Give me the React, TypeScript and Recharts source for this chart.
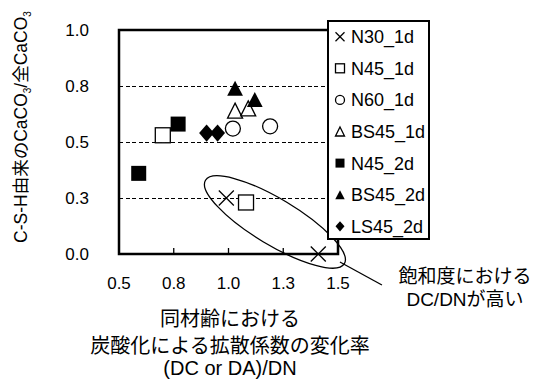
import React from 'react';
import {
  ScatterChart,
  Scatter,
  XAxis,
  YAxis,
  CartesianGrid,
  ReferenceArea,
  ReferenceDot
} from 'recharts';

const FONT = "'Liberation Sans', Arial, 'Noto Sans CJK JP', sans-serif";

const seriesNames = ['N30_1d', 'N45_1d', 'N60_1d', 'BS45_1d', 'N45_2d', 'BS45_2d', 'LS45_2d'];
const seriesKinds = ['x', 'sq', 'ci', 'tri', 'sqf', 'trif', 'dia'];

const n30_1d = [{ x: 0.99, y: 0.25 }, { x: 1.41, y: 0.0 }];
const n45_1d = [{ x: 0.7, y: 0.53 }, { x: 1.08, y: 0.23 }];
const n60_1d = [{ x: 1.02, y: 0.56 }, { x: 1.19, y: 0.57 }];
const bs45_1d = [{ x: 1.03, y: 0.64 }, { x: 1.09, y: 0.65 }];
const n45_2d = [{ x: 0.77, y: 0.58 }, { x: 0.59, y: 0.36 }];
const bs45_2d = [{ x: 1.03, y: 0.74 }, { x: 1.12, y: 0.69 }];
const ls45_2d = [{ x: 0.9, y: 0.54 }, { x: 0.95, y: 0.54 }];
const seriesData = [n30_1d, n45_1d, n60_1d, bs45_1d, n45_2d, bs45_2d, ls45_2d];

const xTicks = [0.5, 0.75, 1.0, 1.25, 1.5];
const yTicks = [0, 0.25, 0.5, 0.75, 1.0];

// ellipse drawn around the high-saturation points
const ellipseCenter = { x: 1.212, y: 0.143 };

const Marker = ({ kind, cx, cy, s }: { kind: string; cx: number; cy: number; s: number }) => {
  const h = s / 2;
  const sw = 1.3;
  switch (kind) {
    case 'x':
      return (
        <g stroke="#000" strokeWidth={sw}>
          <line x1={cx - h} y1={cy - h} x2={cx + h} y2={cy + h} />
          <line x1={cx - h} y1={cy + h} x2={cx + h} y2={cy - h} />
        </g>
      );
    case 'sq':
      return <rect x={cx - h} y={cy - h} width={s} height={s} fill="#fff" stroke="#000" strokeWidth={sw} />;
    case 'ci':
      return <circle cx={cx} cy={cy} r={h} fill="#fff" stroke="#000" strokeWidth={sw} />;
    case 'tri':
      return (
        <polygon
          points={`${cx},${cy - h} ${cx + h},${cy + h} ${cx - h},${cy + h}`}
          fill="#fff"
          stroke="#000"
          strokeWidth={sw}
        />
      );
    case 'sqf':
      return <rect x={cx - h} y={cy - h} width={s} height={s} fill="#000" />;
    case 'trif':
      return <polygon points={`${cx},${cy - h} ${cx + h * 1.05},${cy + h} ${cx - h * 1.05},${cy + h}`} fill="#000" />;
    default:
      return (
        <polygon
          points={`${cx},${cy - h * 1.15} ${cx + h},${cy} ${cx},${cy + h * 1.15} ${cx - h},${cy}`}
          fill="#000"
        />
      );
  }
};

const XTick = (props: any) => {
  const { x, y, payload } = props;
  const axisY = y - 23;
  return (
    <g>
      <line x1={x} y1={axisY} x2={x} y2={axisY - 6} stroke="#000" strokeWidth={1.3} />
      <text x={x} y={y} dy="0.71em" textAnchor="middle" fontSize={17} fill="#000" fontFamily={FONT}>
        {payload.value.toFixed(1)}
      </text>
    </g>
  );
};

const EllipseShape = (props: any) => {
  const { cx, cy } = props;
  return (
    <g>
      <ellipse
        cx={cx}
        cy={cy}
        rx={81}
        ry={23}
        transform={`rotate(31 ${cx} ${cy})`}
        fill="none"
        stroke="#000"
        strokeWidth={1.3}
      />
      <line x1={cx + 65} y1={cy + 40} x2={cx + 107} y2={cy + 63} stroke="#000" strokeWidth={1.3} />
    </g>
  );
};

const Legend = () => (
  <svg width={103} height={220} style={{ position: 'absolute', left: 327, top: 20 }}>
    <rect x={1} y={1} width={101} height={218} fill="#fff" stroke="#000" strokeWidth={2} />
    {seriesNames.map((name, i) => {
      const cy = 16.7 + 31.6 * i;
      return (
        <g key={name}>
          <Marker kind={seriesKinds[i]} cx={13} cy={cy} s={9} />
          <text x={24} y={cy + 6.5} fontSize={18} fontFamily={FONT} fill="#000">
            {name}
          </text>
        </g>
      );
    })}
  </svg>
);

const Titles = () => (
  <svg width={534} height={383} style={{ position: 'absolute', left: 0, top: 0, pointerEvents: 'none' }}>
    <text
      x={27}
      y={127}
      transform="rotate(-90 27 127)"
      textAnchor="middle"
      fontSize={17.5}
      fontFamily={FONT}
      fill="#000"
    >
      C-S-H由来のCaCO
      <tspan fontSize={10} dy={4}>3</tspan>
      <tspan dy={-4}>/全CaCO</tspan>
      <tspan fontSize={10} dy={4}>3</tspan>
    </text>
    <g fontFamily={FONT} fill="#000" fontSize={20} textAnchor="middle">
      <text x={230} y={325.6}>同材齢における</text>
      <text x={230} y={352.6}>炭酸化による拡散係数の変化率</text>
      <text x={230} y={375}>(DC or DA)/DN</text>
    </g>
    <g fontFamily={FONT} fill="#000" fontSize={19} textAnchor="middle">
      <text x={465} y={283}>飽和度における</text>
      <text x={465} y={306}>DC/DNが高い</text>
    </g>
  </svg>
);

const App: React.FC = () => {
  return (
    <div style={{ position: 'absolute', left: 0, top: 0, width: 534, height: 383, background: '#fff' }}>
      <ScatterChart width={534} height={383} margin={{ top: 30, right: 196, bottom: 0, left: 0 }}>
        <CartesianGrid
          vertical={false}
          stroke="#000"
          strokeWidth={1}
          strokeDasharray="4 2.5"
          shapeRendering="crispEdges"
        />
        <XAxis
          type="number"
          dataKey="x"
          domain={[0.5, 1.5]}
          ticks={xTicks}
          height={129}
          axisLine={false}
          tickLine={false}
          tickSize={0}
          tickMargin={23}
          tick={<XTick />}
          interval={0}
        />
        <YAxis
          type="number"
          dataKey="y"
          domain={[0, 1]}
          ticks={yTicks}
          width={119}
          axisLine={false}
          tickLine={false}
          tickSize={0}
          tickMargin={30}
          interval={0}
          tickFormatter={(v: number) => v.toFixed(1)}
          tick={{ fontSize: 17, fill: '#000', fontFamily: FONT }}
        />
        <ReferenceArea x1={0.5} x2={1.5} y1={0} y2={1} fill="none" fillOpacity={0} stroke="#000" strokeWidth={2.5} />
        {seriesData.map((d, i) => (
          <Scatter
            key={seriesNames[i]}
            name={seriesNames[i]}
            data={d}
            isAnimationActive={false}
            shape={(p: any) => <Marker kind={seriesKinds[i]} cx={p.cx} cy={p.cy} s={15} />}
          />
        ))}
        <ReferenceDot x={ellipseCenter.x} y={ellipseCenter.y} r={1} shape={<EllipseShape />} />
      </ScatterChart>
      <Legend />
      <Titles />
    </div>
  );
};

export default App;
